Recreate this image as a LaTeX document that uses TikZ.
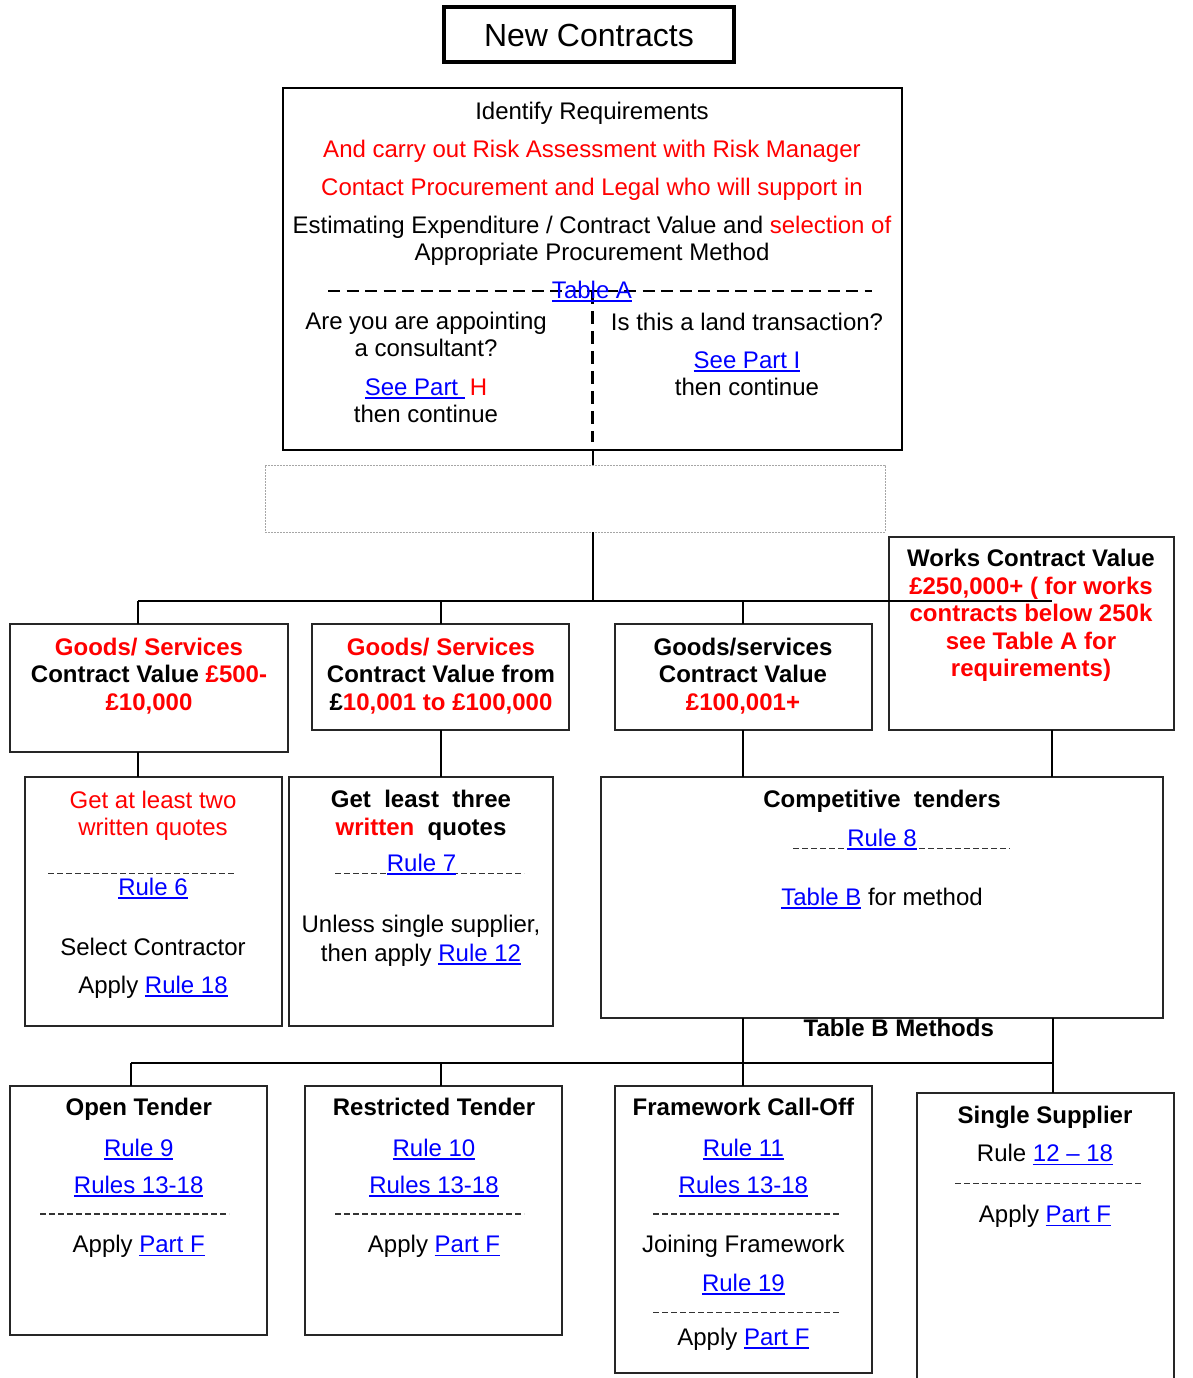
\documentclass[tikz,border=0pt]{standalone}
\usepackage{fontspec}
\setmainfont{Liberation Sans}
\usepackage{xcolor}
\definecolor{lred}{RGB}{255,0,0}
\definecolor{lblue}{RGB}{0,0,255}
\newcommand\lnkU[1]{{\color{lblue}\setbox0=\hbox{#1}\rlap{\rule[-3.5pt]{\wd0}{1.6pt}}\box0}}
\newcommand\rd[1]{\textcolor{lred}{#1}}
\begin{document}
\begin{tikzpicture}[x=1pt,y=-1pt,
  box/.style={draw=black!85, line width=1.5pt, inner sep=0pt, outer sep=0pt, anchor=north west},
  conn/.style={line width=2pt, black},
  tx/.style={anchor=base, inner sep=0pt, font=\fontsize{24}{28}\selectfont},
  txb/.style={anchor=base, inner sep=0pt, font=\fontsize{24}{28}\selectfont\bfseries},
  sdash/.style={line width=1.3pt, black!80, dash pattern=on 5.5pt off 3.5pt},
]
\useasboundingbox (0,0) rectangle (1193,1378);

% ---------- boxes ----------
\node[box, draw=black, line width=4pt, minimum width=290pt, minimum height=55pt] (title) at (444,7) {};
\node[box, draw=black, line width=1.8pt, minimum width=619pt, minimum height=362pt] (top) at (283,88) {};
\node[box, draw=black!35, line width=1pt, dash pattern=on 2pt off 1pt, minimum width=620pt, minimum height=67pt] (dot) at (265,465) {};
\node[box, minimum width=278pt, minimum height=128pt] (g1) at (10,624) {};
\node[box, minimum width=257pt, minimum height=106pt] (g2) at (312,624) {};
\node[box, minimum width=257pt, minimum height=106pt] (g3) at (615,624) {};
\node[box, minimum width=285pt, minimum height=193pt] (wk) at (889,537) {};
\node[box, minimum width=257pt, minimum height=249pt] (qa) at (25,777) {};
\node[box, minimum width=264pt, minimum height=249pt] (qb) at (289,777) {};
\node[box, minimum width=562pt, minimum height=241pt] (qc) at (601,777) {};
\node[box, minimum width=257pt, minimum height=249pt] (ot) at (10,1086) {};
\node[box, minimum width=257pt, minimum height=249pt] (rt) at (305,1086) {};
\node[box, minimum width=257pt, minimum height=287pt] (fw) at (615,1086) {};
\node[box, draw=none, minimum width=257pt, minimum height=285pt] (ss) at (917,1093) {};
\draw[draw=black!85, line width=1.5pt] (ss.south west) -- (ss.north west) -- (ss.north east) -- (ss.south east);

% ---------- connectors ----------
\coordinate (busL) at (138,601);
\coordinate (busR) at (1052,601);
\coordinate (d2) at (441,601);
\coordinate (d3) at (743,601);
\coordinate (d4) at (1052,730);
\coordinate (bus2L) at (131,1063);
\coordinate (bus2R) at (1053,1063);
\coordinate (d6) at (441,1063);
\draw[conn] (top.south) -- (top.south |- dot.north);
\draw[conn] (top.south |- dot.south) -- (top.south |- busL);
\draw[conn] (busL) -- (busR);
\draw[conn] (busL) -- (busL |- g1.north);
\draw[conn] (d2) -- (d2 |- g2.north);
\draw[conn] (d3) -- (d3 |- g3.north);
\draw[conn] (busL |- g1.south) -- (busL |- qa.north);
\draw[conn] (d2 |- g2.south) -- (d2 |- qb.north);
\draw[conn] (d3 |- g3.south) -- (d3 |- qc.north);
\draw[conn] (d4 |- wk.south) -- (d4 |- qc.north);
\draw[conn] (d3 |- qc.south) -- (d3 |- fw.north);
\draw[conn] (bus2R |- qc.south) -- (bus2R |- ss.north);
\draw[conn] (bus2L) -- (bus2R);
\draw[conn] (bus2L) -- (bus2L |- ot.north);
\draw[conn] (d6) -- (d6 |- rt.north);

% ---------- title ----------
\node[anchor=base, inner sep=0pt, font=\fontsize{32}{36}\selectfont] (tt) at (589,47) {New Contracts};

% ---------- top box ----------
\draw[line width=2.6pt, dash pattern=on 12pt off 6.5pt] (328,291) -- (872,291);
\draw[line width=2.3pt, dash pattern=on 12.5pt off 7.5pt] (592.5,291) -- (592.5,442);
\node[tx] (n1) at (592,119.5) {Identify Requirements};
\node[tx] (n2) at (592,157.5) {\rd{And carry out Risk Assessment with Risk Manager}};
\node[tx] (n3) at (592,195) {\rd{Contact Procurement and Legal who will support in}};
\node[tx] (n4) at (592,233.3) {Estimating Expenditure / Contract Value and \rd{selection of}};
\node[tx] (n5) at (592,260.7) {Appropriate Procurement Method};
\node[tx] (n6) at (592,298.3) {\lnkU{Table A}};
\node[tx] (l1) at (426,329.3) {Are you are appointing};
\node[tx] (l2) at (426,356.7) {a consultant?};
\node[tx] (l3) at (426,395) {\lnkU{See Part }\hspace{5pt}\rd{H}};
\node[tx] (l4) at (426,422.7) {then continue};
\node[tx] (r1) at (747,330) {Is this a land transaction?};
\node[tx] (r2) at (747,368.3) {\lnkU{See Part I}};
\node[tx] (r3) at (747,395) {then continue};

% ---------- row 2 ----------
\node[txb] (g1a) at (149,655) {\rd{Goods/ Services}};
\node[txb] (g1b) at (149,682.3) {Contract Value \rd{£500-}};
\node[txb] (g1c) at (149,710) {\rd{£10,000}};
\node[txb] (g2a) at (441,655) {\rd{Goods/ Services}};
\node[txb] (g2b) at (441,682.3) {Contract Value from};
\node[txb] (g2c) at (441,710) {£\rd{10,001 to £100,000}};
\node[txb] (g3a) at (743,655) {Goods/services};
\node[txb] (g3b) at (743,682.3) {Contract Value};
\node[txb] (g3c) at (743,710) {\rd{£100,001+}};
\node[txb] (w1) at (1031,566) {Works Contract Value};
\node[txb] (w2) at (1031,594) {\rd{£250,000+ ( for works}};
\node[txb] (w3) at (1031,621.7) {\rd{contracts below 250k}};
\node[txb] (w4) at (1031,649.3) {\rd{see Table A for}};
\node[txb] (w5) at (1031,676.7) {\rd{requirements)}};

% ---------- row 3 ----------
\node[tx] (qa1) at (153,808.3) {\rd{Get at least two}};
\node[tx] (qa2) at (153,835) {\rd{written quotes}};
\draw[sdash] (48,873.7) -- (236,873.7);
\node[tx] (qa3) at (153,895) {\lnkU{Rule 6}};
\node[tx] (qa4) at (153,955) {Select Contractor};
\node[tx] (qa5) at (153,993.3) {Apply \lnkU{Rule 18}};

\node[txb] (qb1) at (421,807.3) {Get\ \ least\ \ three};
\node[txb] (qb2) at (421,835) {\rd{written}\ \ quotes};
\draw[sdash] (335,873.7) -- (524,873.7);
\node[tx] (qb3) at (421.6,871.5) {\lnkU{Rule 7}};
\node[tx] (qb4) at (421,932.7) {Unless single supplier,};
\node[tx] (qb5) at (421,961) {then apply \lnkU{Rule 12}};

\node[txb] (qc1) at (882,807.3) {Competitive\ \ tenders};
\draw[sdash] (793,848.7) -- (1010,848.7);
\node[tx] (qc2) at (882,846) {\lnkU{Rule 8}};
\node[tx] (qc3) at (882,905) {\lnkU{Table B} for method};
\node[txb] (tbm) at (898.8,1036.7) {Table B Methods};

% ---------- row 4 ----------
\node[txb] (ot1) at (138.7,1115) {Open Tender};
\node[tx] (ot2) at (138.7,1156) {\lnkU{Rule 9}};
\node[tx] (ot3) at (138.7,1193.3) {\lnkU{Rules 13-18}};
\draw[sdash] (40,1214) -- (229,1214);
\node[tx] (ot4) at (138.7,1252.7) {Apply \lnkU{Part F}};

\node[txb] (rt1) at (434,1115) {Restricted Tender};
\node[tx] (rt2) at (434,1156) {\lnkU{Rule 10}};
\node[tx] (rt3) at (434,1193.3) {\lnkU{Rules 13-18}};
\draw[sdash] (335,1214) -- (524,1214);
\node[tx] (rt4) at (434,1252.7) {Apply \lnkU{Part F}};

\node[txb] (fw1) at (743.4,1115) {Framework Call-Off};
\node[tx] (fw2) at (743.4,1156) {\lnkU{Rule 11}};
\node[tx] (fw3) at (743.4,1193.3) {\lnkU{Rules 13-18}};
\draw[sdash] (653,1214) -- (841.5,1214);
\node[tx] (fw4) at (743.4,1252.7) {Joining Framework};
\node[tx] (fw5) at (743.4,1291) {\lnkU{Rule 19}};
\draw[sdash] (653,1312.3) -- (841.5,1312.3);
\node[tx] (fw6) at (743.4,1345) {Apply \lnkU{Part F}};

\node[txb] (ss1) at (1045,1123.3) {Single Supplier};
\node[tx] (ss2) at (1045,1161.7) {Rule \lnkU{12 -- 18}};
\draw[sdash] (955,1183.7) -- (1142.6,1183.7);
\node[tx] (ss3) at (1045,1222.7) {Apply \lnkU{Part F}};
\end{tikzpicture}
\end{document}
